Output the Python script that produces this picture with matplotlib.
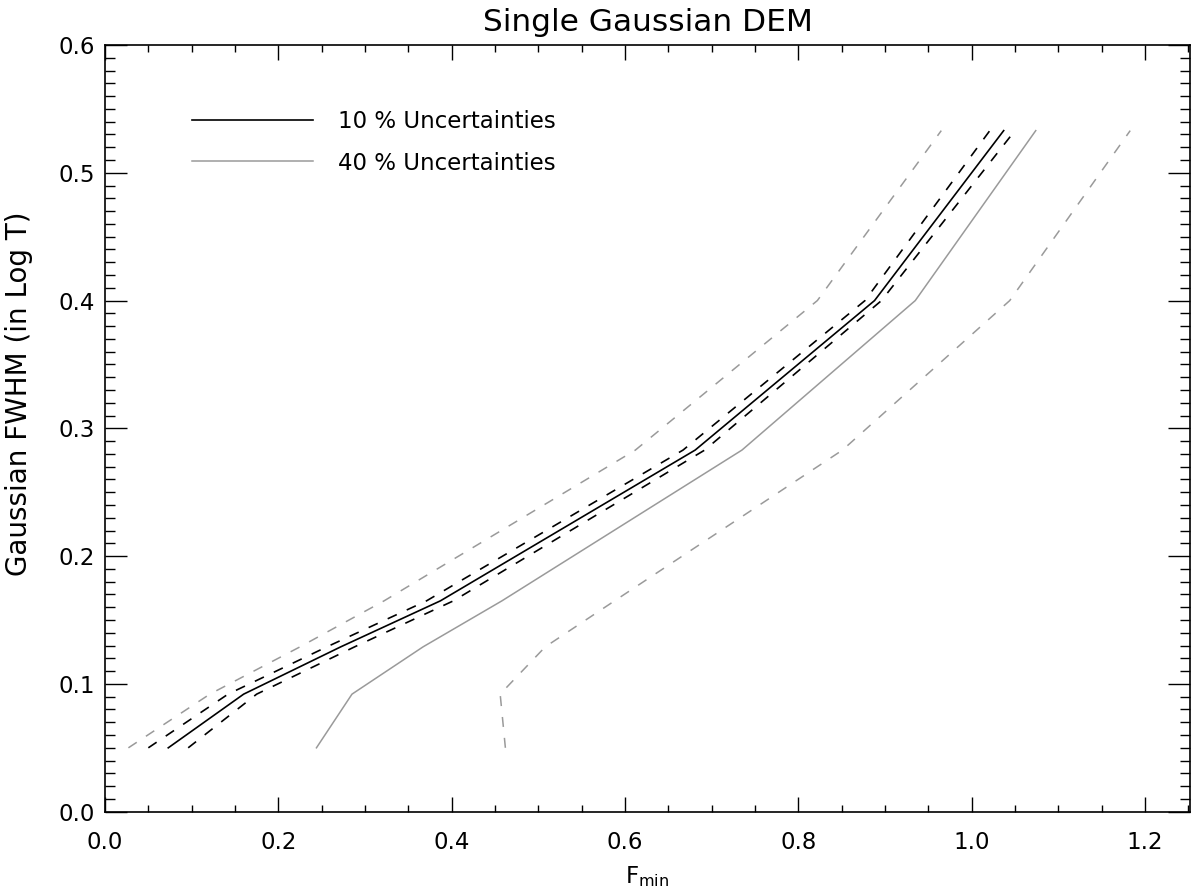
import numpy as np
import matplotlib
matplotlib.use("Agg")
import matplotlib.pyplot as plt
from matplotlib.ticker import MultipleLocator, FormatStrFormatter
from matplotlib.lines import Line2D

# Gaussian FWHM values (in Log T) at which F_min was computed
fwhm = [0.05, 0.092, 0.129, 0.165, 0.283, 0.40, 0.533]

# 10 % uncertainties: mean and the two bounds
f10_mean = [0.073, 0.160, 0.272, 0.387, 0.681, 0.888, 1.037]
f10_low = [0.050, 0.142, 0.256, 0.371, 0.667, 0.877, 1.021]
f10_high = [0.096, 0.175, 0.288, 0.402, 0.692, 0.896, 1.050]

# 40 % uncertainties
f40_mean = [0.244, 0.285, 0.367, 0.458, 0.735, 0.935, 1.074]
f40_low = [0.027, 0.121, 0.225, 0.322, 0.612, 0.822, 0.965]
f40_high = [0.462, 0.456, 0.508, 0.588, 0.851, 1.044, 1.183]

labels = ["10 % Uncertainties", "40 % Uncertainties"]

plt.rcParams['font.family'] = ['DejaVu Sans']
plt.rcParams['lines.scale_dashes'] = False
plt.rcParams['mathtext.default'] = 'regular'

grey = '#9a9a9a'
dash = (0, (7.2, 7.9))

fig = plt.figure(figsize=(11.94, 8.90), dpi=100)
ax = fig.add_axes([105/1194, (890-811.7)/890, 1085/1194, 766.7/890])

ax.plot(f40_low, fwhm, color=grey, lw=1.1, linestyle=dash)
ax.plot(f40_high, fwhm, color=grey, lw=1.1, linestyle=dash)
ax.plot(f40_mean, fwhm, color=grey, lw=1.1)

ax.plot(f10_low, fwhm, color='black', lw=1.2, linestyle=dash)
ax.plot(f10_high, fwhm, color='black', lw=1.2, linestyle=dash)
ax.plot(f10_mean, fwhm, color='black', lw=1.2)

ax.set_xlim(0, 1.252)
ax.set_ylim(0, 0.6)

ax.xaxis.set_major_locator(MultipleLocator(0.2))
ax.xaxis.set_minor_locator(MultipleLocator(0.05))
ax.yaxis.set_major_locator(MultipleLocator(0.1))
ax.yaxis.set_minor_locator(MultipleLocator(0.01))
ax.xaxis.set_major_formatter(FormatStrFormatter('%.1f'))
ax.yaxis.set_major_formatter(FormatStrFormatter('%.1f'))

ax.tick_params(axis='both', which='both', direction='in', top=True, right=True,
               width=1.0, labelsize=16.5, colors='black')
ax.tick_params(axis='x', which='major', length=11, pad=14)
ax.tick_params(axis='x', which='minor', length=5.3)
ax.tick_params(axis='y', which='major', length=15.6, pad=7)
ax.tick_params(axis='y', which='minor', length=7.2)

for s in ax.spines.values():
    s.set_linewidth(1.2)

ax.set_title("Single Gaussian DEM", fontsize=22.5, pad=10)
ax.set_xlabel(r"F$_{\mathregular{min}}$", fontsize=16.5, labelpad=7)
ax.set_ylabel("Gaussian FWHM (in Log T)", fontsize=20)
ax.yaxis.set_label_coords(-0.066, 0.545)

handles = [Line2D([], [], color='black', lw=1.2), Line2D([], [], color=grey, lw=1.1)]
ax.legend(handles, labels, loc='upper left', bbox_to_anchor=(0.08, 0.915),
          frameon=False, fontsize=16.5, handlelength=5.3, handletextpad=1.1,
          labelspacing=0.8, borderpad=0, borderaxespad=0)

fig.savefig("out.png", dpi=100)
